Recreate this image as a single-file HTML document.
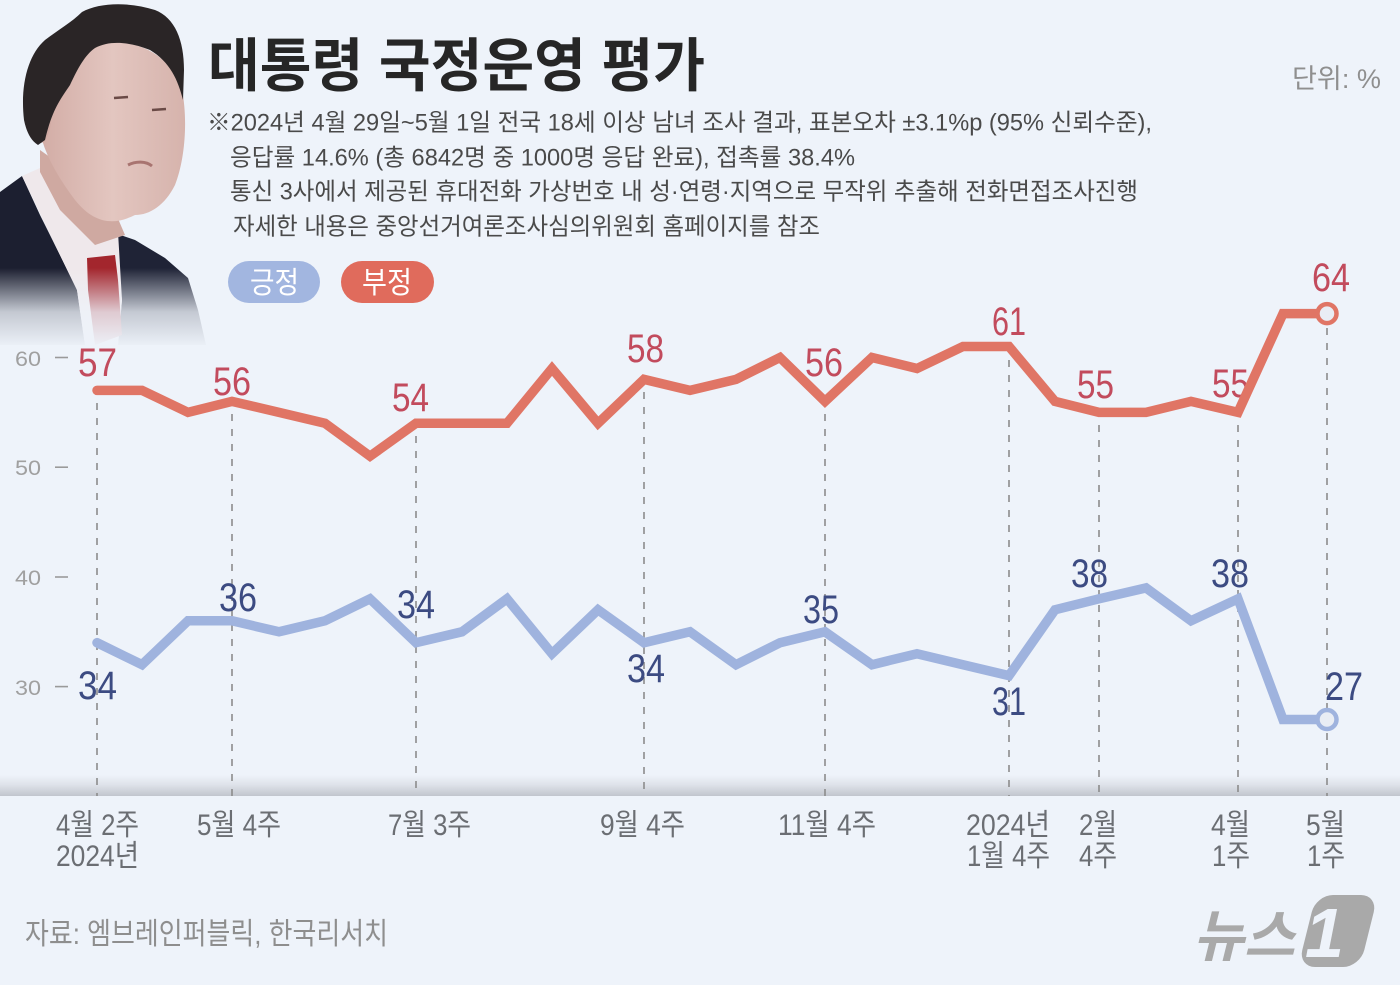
<!DOCTYPE html>
<html lang="ko">
<head>
<meta charset="utf-8">
<style>
  html,body{margin:0;padding:0;background:#eef3fa;}
  svg{display:block;}
  .kr{font-family:"Liberation Sans","Noto Sans CJK KR",sans-serif;}
</style>
</head>
<body>
<svg width="1400" height="985" viewBox="0 0 1400 985" xmlns="http://www.w3.org/2000/svg">
  <defs>
    <linearGradient id="band" x1="0" y1="0" x2="0" y2="1">
      <stop offset="0" stop-color="#eef3fa"/>
      <stop offset="0.45" stop-color="#dfe3ea"/>
      <stop offset="1" stop-color="#c1c5cd"/>
    </linearGradient>
    <linearGradient id="fade" x1="0" y1="0" x2="0" y2="1">
      <stop offset="0" stop-color="#eef3fa" stop-opacity="0"/>
      <stop offset="0.55" stop-color="#eef3fa" stop-opacity="0.8"/>
      <stop offset="1" stop-color="#eef3fa" stop-opacity="1"/>
    </linearGradient>
    <linearGradient id="skin" x1="0" y1="0" x2="1" y2="0">
      <stop offset="0" stop-color="#d2aca5"/>
      <stop offset="0.5" stop-color="#e3c6c0"/>
      <stop offset="1" stop-color="#d6b3ac"/>
    </linearGradient>
  </defs>

  <rect width="1400" height="985" fill="#eef3fa"/>

  <!-- photo -->
  <g>
    <path d="M0,192 L22,176 L40,215 L60,255 L77,290 L85,345 L0,345 Z" fill="#1c1f30"/>
    <path d="M112,232 L135,240 L165,258 L188,278 L198,310 L206,345 L118,345 L122,300 Z" fill="#1f2336"/>
    <path d="M22,176 L40,168 L60,205 L90,235 L118,232 L122,300 L118,345 L85,345 L77,290 L55,245 Z" fill="#efe8eb"/>
    <path d="M40,150 L110,200 L125,235 L95,245 L60,210 L40,172 Z" fill="#cfa9a1"/>
    <path d="M40,95 C45,65 70,45 105,42 C140,40 170,55 182,90 C188,120 185,160 175,185 C165,205 150,215 135,215 C115,225 95,225 75,200 C60,180 48,160 42,140 Z" fill="url(#skin)"/>
    <ellipse cx="40" cy="118" rx="11" ry="25" fill="#d0a9a2"/>
    <path d="M24,120 C20,85 28,55 45,40 C58,30 72,22 82,12 C100,2 130,2 155,10 C175,18 184,40 184,70 L183,100 C178,80 170,62 150,50 C130,42 110,40 95,48 C85,55 78,68 70,85 C60,100 52,110 45,140 L38,145 C30,140 26,130 24,120 Z" fill="#2a2526"/>
    <path d="M114,98 L128,97 M152,110 L166,109" stroke="#6a4a46" stroke-width="2.5"/>
    <path d="M128,165 C136,161 146,161 152,166" stroke="#a87470" stroke-width="3" fill="none"/>
    <path d="M87,258 L115,255 L118,280 L122,335 L95,345 L88,290 Z" fill="#a3262d"/>
    <rect x="0" y="268" width="215" height="80" fill="url(#fade)"/>
  </g>

  <!-- title & notes -->
  <text class="kr" x="208" y="86" font-size="58" font-weight="700" fill="#262626" textLength="497" lengthAdjust="spacingAndGlyphs">대통령 국정운영 평가</text>
  <text class="kr" x="1292" y="88" font-size="27" fill="#8f8f8f" textLength="89" lengthAdjust="spacingAndGlyphs">단위: %</text>

  <g class="kr" font-size="24" fill="#4a4a4a">
    <text x="207" y="130.5" textLength="945" lengthAdjust="spacingAndGlyphs">※2024년 4월 29일~5월 1일 전국 18세 이상 남녀 조사 결과, 표본오차 ±3.1%p (95% 신뢰수준),</text>
    <text x="230" y="165.5" textLength="625" lengthAdjust="spacingAndGlyphs">응답률 14.6% (총 6842명 중 1000명 응답 완료), 접촉률 38.4%</text>
    <text x="230" y="199.5" textLength="908" lengthAdjust="spacingAndGlyphs">통신 3사에서 제공된 휴대전화 가상번호 내 성·연령·지역으로 무작위 추출해 전화면접조사진행</text>
    <text x="233" y="234.5" textLength="587" lengthAdjust="spacingAndGlyphs">자세한 내용은 중앙선거여론조사심의위원회 홈페이지를 참조</text>
  </g>

  <!-- legend -->
  <rect x="228" y="261" width="92" height="42" rx="21" fill="#a2b6e0"/>
  <rect x="341" y="261" width="93" height="42" rx="21" fill="#e06b5c"/>
  <text class="kr" x="250" y="293" font-size="30" fill="#ffffff" textLength="49" lengthAdjust="spacingAndGlyphs">긍정</text>
  <text class="kr" x="362" y="293" font-size="30" fill="#ffffff" textLength="50" lengthAdjust="spacingAndGlyphs">부정</text>

  <!-- y axis -->
  <g font-family="Liberation Sans, sans-serif" font-size="21" fill="#a0a0a0">
    <text x="15" y="366" textLength="26" lengthAdjust="spacingAndGlyphs">60</text>
    <text x="15" y="475" textLength="26" lengthAdjust="spacingAndGlyphs">50</text>
    <text x="15" y="585" textLength="26" lengthAdjust="spacingAndGlyphs">40</text>
    <text x="15" y="695" textLength="26" lengthAdjust="spacingAndGlyphs">30</text>
  </g>
  <g stroke="#9a9a9a" stroke-width="1.6">
    <line x1="55" y1="357.5" x2="68" y2="357.5"/>
    <line x1="55" y1="467.2" x2="68" y2="467.2"/>
    <line x1="55" y1="577" x2="68" y2="577"/>
    <line x1="55" y1="686.6" x2="68" y2="686.6"/>
  </g>

  <!-- bottom band -->
  <rect x="0" y="775" width="1400" height="21" fill="url(#band)"/>

  <!-- dashed guides -->
  <g stroke="#8c8c8c" stroke-width="1.6" stroke-dasharray="7 8">
    <line x1="97" y1="403" x2="97" y2="796"/>
    <line x1="232" y1="414" x2="232" y2="796"/>
    <line x1="416" y1="436" x2="416" y2="796"/>
    <line x1="644" y1="392" x2="644" y2="796"/>
    <line x1="825" y1="414" x2="825" y2="796"/>
    <line x1="1009" y1="360" x2="1009" y2="796"/>
    <line x1="1099" y1="425" x2="1099" y2="796"/>
    <line x1="1238" y1="425" x2="1238" y2="796"/>
    <line x1="1327" y1="328" x2="1327" y2="796"/>
  </g>

  <!-- red label under line -->
  <text font-family="Liberation Sans, sans-serif" font-size="40" fill="#c24b5d" x="1212" y="397" textLength="37" lengthAdjust="spacingAndGlyphs">55</text>

  <!-- series lines -->
  <polyline fill="none" stroke="#e07565" stroke-width="9.5" stroke-linejoin="miter" stroke-miterlimit="6" stroke-linecap="round"
    points="97,390.4 142,390.4 188,412.4 232,401.4 279,412.4 325,423.3 370,456.2 416,423.3 462,423.3 507,423.3 552,368.5 598,423.3 644,379.4 690,390.4 736,379.4 780,357.5 825,401.4 872,357.5 917,368.5 963,346.5 1009,346.5 1055,401.4 1099,412.4 1146,412.4 1191,401.4 1238,412.4 1283,313.6 1327,313.6"/>
  <polyline fill="none" stroke="#9fb3de" stroke-width="9.5" stroke-linejoin="miter" stroke-miterlimit="6" stroke-linecap="round"
    points="97,642.7 142,664.7 188,620.8 232,620.8 279,631.8 325,620.8 370,598.8 416,642.7 462,631.8 507,598.8 552,653.7 598,609.8 644,642.7 690,631.8 736,664.7 780,642.7 825,631.8 872,664.7 917,653.7 963,664.7 1009,675.6 1055,609.8 1099,598.8 1146,587.9 1191,620.8 1238,598.8 1283,719.5 1327,719.5"/>
  <circle cx="1327" cy="313.6" r="9.5" fill="#e9edf4" stroke="#e07565" stroke-width="4.5"/>
  <circle cx="1327" cy="719.5" r="9.5" fill="#e9edf4" stroke="#9fb3de" stroke-width="4.5"/>

  <!-- red labels -->
  <g font-family="Liberation Sans, sans-serif" font-size="40" fill="#c24b5d">
    <text x="78" y="376" textLength="39" lengthAdjust="spacingAndGlyphs">57</text>
    <text x="213" y="395" textLength="38" lengthAdjust="spacingAndGlyphs">56</text>
    <text x="392" y="411" textLength="37" lengthAdjust="spacingAndGlyphs">54</text>
    <text x="627" y="362" textLength="37" lengthAdjust="spacingAndGlyphs">58</text>
    <text x="805" y="376" textLength="38" lengthAdjust="spacingAndGlyphs">56</text>
    <text x="992" y="335" textLength="34" lengthAdjust="spacingAndGlyphs">61</text>
    <text x="1077" y="398" textLength="37" lengthAdjust="spacingAndGlyphs">55</text>
    <text x="1312" y="291" textLength="38" lengthAdjust="spacingAndGlyphs">64</text>
  </g>
  <!-- blue labels -->
  <g font-family="Liberation Sans, sans-serif" font-size="40" fill="#3c4b82">
    <text x="78" y="699" textLength="39" lengthAdjust="spacingAndGlyphs">34</text>
    <text x="219" y="611" textLength="38" lengthAdjust="spacingAndGlyphs">36</text>
    <text x="397" y="618" textLength="38" lengthAdjust="spacingAndGlyphs">34</text>
    <text x="627" y="682" textLength="38" lengthAdjust="spacingAndGlyphs">34</text>
    <text x="803" y="623" textLength="36" lengthAdjust="spacingAndGlyphs">35</text>
    <text x="992" y="715" textLength="34" lengthAdjust="spacingAndGlyphs">31</text>
    <text x="1071" y="587" textLength="37" lengthAdjust="spacingAndGlyphs">38</text>
    <text x="1211" y="587" textLength="38" lengthAdjust="spacingAndGlyphs">38</text>
    <text x="1325" y="700" textLength="38" lengthAdjust="spacingAndGlyphs">27</text>
  </g>

  <!-- x labels -->
  <g class="kr" font-size="30" fill="#6b6e73">
    <text x="56" y="835" textLength="83" lengthAdjust="spacingAndGlyphs">4월 2주</text>
    <text x="56" y="866" textLength="83" lengthAdjust="spacingAndGlyphs">2024년</text>
    <text x="197" y="835" textLength="84" lengthAdjust="spacingAndGlyphs">5월 4주</text>
    <text x="388" y="835" textLength="83" lengthAdjust="spacingAndGlyphs">7월 3주</text>
    <text x="600" y="835" textLength="85" lengthAdjust="spacingAndGlyphs">9월 4주</text>
    <text x="778" y="835" textLength="98" lengthAdjust="spacingAndGlyphs">11월 4주</text>
    <text x="966" y="835" textLength="84" lengthAdjust="spacingAndGlyphs">2024년</text>
    <text x="967" y="866" textLength="83" lengthAdjust="spacingAndGlyphs">1월 4주</text>
    <text x="1079" y="835" textLength="38" lengthAdjust="spacingAndGlyphs">2월</text>
    <text x="1079" y="866" textLength="38" lengthAdjust="spacingAndGlyphs">4주</text>
    <text x="1211" y="835" textLength="39" lengthAdjust="spacingAndGlyphs">4월</text>
    <text x="1212" y="866" textLength="38" lengthAdjust="spacingAndGlyphs">1주</text>
    <text x="1306" y="835" textLength="39" lengthAdjust="spacingAndGlyphs">5월</text>
    <text x="1307" y="866" textLength="38" lengthAdjust="spacingAndGlyphs">1주</text>
  </g>

  <!-- source -->
  <text class="kr" x="25" y="944" font-size="30" fill="#8e8e8e" textLength="363" lengthAdjust="spacingAndGlyphs">자료: 엠브레인퍼블릭, 한국리서치</text>

  <!-- logo -->
  <text class="kr" x="1193" y="956" font-size="56" font-weight="700" font-style="italic" fill="#a9a9a9" textLength="102" lengthAdjust="spacingAndGlyphs">뉴스</text>
  <rect x="0" y="0" width="62" height="72" rx="17" fill="#a9a9a9" transform="translate(1316,895) skewX(-14)"/>
  <text x="1305" y="957" font-family="Liberation Sans, sans-serif" font-size="70" font-weight="700" font-style="italic" fill="#eef3fa">1</text>
</svg>
</body>
</html>
